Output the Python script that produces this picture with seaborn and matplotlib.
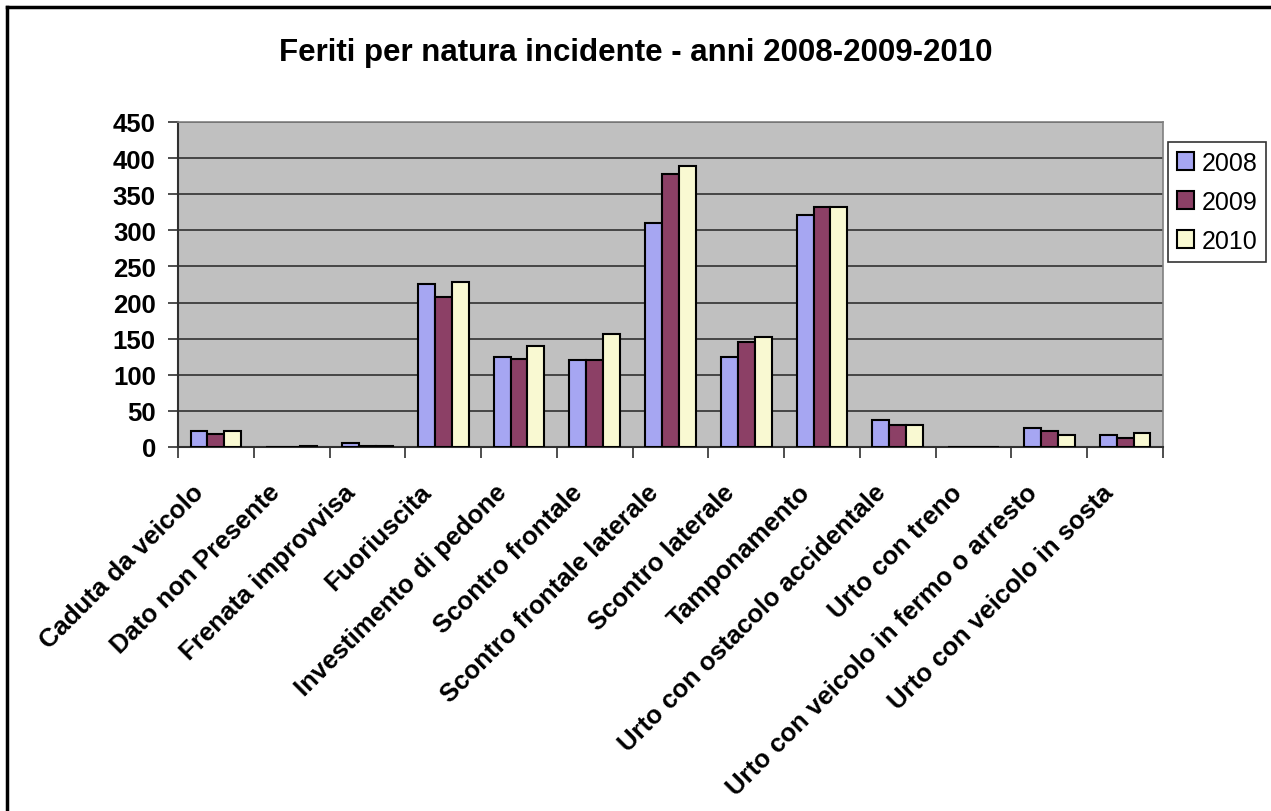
import pandas as pd
import seaborn as sns
import numpy as np
import matplotlib.pyplot as plt
import matplotlib.ticker as ticker
from matplotlib.lines import Line2D
from matplotlib.transforms import ScaledTranslation

categorie = [
    "Caduta da veicolo", "Dato non Presente", "Frenata improvvisa", "Fuoriuscita",
    "Investimento di pedone", "Scontro frontale", "Scontro frontale laterale",
    "Scontro laterale", "Tamponamento", "Urto con ostacolo accidentale",
    "Urto con treno", "Urto con veicolo in fermo o arresto", "Urto con veicolo in sosta",
]
anni = ["2008", "2009", "2010"]
feriti_2008 = [22, 0, 5, 226, 124, 120, 310, 125, 321, 38, 0, 26, 17]
feriti_2009 = [18, 0, 2, 208, 122, 120, 378, 145, 333, 31, 0, 22, 13]
feriti_2010 = [22, 2, 2, 229, 140, 156, 389, 152, 333, 31, 0, 17, 20]
colori = ["#9999FF", "#993366", "#FFFFCC"]

plt.rcParams['font.family'] = ['Liberation Sans', 'DejaVu Sans']

df = pd.concat([
    pd.DataFrame({'categoria': categorie, 'feriti': vals, 'anno': anno})
    for anno, vals in zip(anni, [feriti_2008, feriti_2009, feriti_2010])
])

fig = plt.figure(figsize=(12.71, 8.12), dpi=100)
ax = fig.add_axes([178 / 1271, 1 - 448 / 812, (1163 - 178) / 1271, (448 - 123) / 812])
ax.set_facecolor("#C0C0C0")

sns.barplot(data=df, x='categoria', y='feriti', hue='anno', palette=colori, width=0.67,
            edgecolor='black', linewidth=1.5, ax=ax, legend=True, zorder=3)

ax.set_ylim(0, 450)
ax.yaxis.set_major_locator(ticker.MultipleLocator(50))
ax.yaxis.grid(True, color='#303030', linewidth=1.2, zorder=0)
ax.set_axisbelow(True)
ax.set_xlim(-0.5, len(categorie) - 0.5)

# tick marks between categories, like the spreadsheet chart
ax.set_xticks(np.arange(-0.5, len(categorie), 1), minor=True)
ax.tick_params(axis='x', which='major', length=0, pad=12)
ax.tick_params(axis='x', which='minor', length=8, width=1.2, color='#303030', direction='out')
ax.tick_params(axis='y', length=7, width=1.2, color='#303030', direction='out', pad=9)
ax.set_xticks(range(len(categorie)))
ax.set_xticklabels(categorie, rotation=45, ha='right', va='top', rotation_mode='anchor',
                   fontsize=18.5, fontweight='bold')
shift = ScaledTranslation(-0.24, -0.16, fig.dpi_scale_trans)
for lbl in ax.get_xticklabels():
    lbl.set_transform(lbl.get_transform() + shift)
for lbl in ax.get_yticklabels():
    lbl.set_fontsize(18.5)
    lbl.set_fontweight('bold')

ax.set_xlabel('')
ax.set_ylabel('')
for side in ['left', 'bottom']:
    ax.spines[side].set_color('#303030')
    ax.spines[side].set_linewidth(1.5)
for side in ['top', 'right']:
    ax.spines[side].set_color('#808080')
    ax.spines[side].set_linewidth(1.2)

handles, labels = ax.get_legend_handles_labels()
leg = ax.legend(handles, labels, loc='upper left', bbox_to_anchor=(1168 / 1271, 1 - 143 / 812),
                bbox_transform=fig.transFigure, fontsize=18, frameon=True, fancybox=False,
                edgecolor='black', handlelength=0.7, handleheight=0.7, handletextpad=0.3,
                labelspacing=0.6, borderpad=0.35, borderaxespad=0)
leg.get_frame().set_linewidth(1.2)

fig.text(0.5, 1 - 53 / 812, "Feriti per natura incidente - anni 2008-2009-2010",
         ha='center', va='center', fontsize=22.5, fontweight='bold')

# chart border
fig.add_artist(Line2D([7 / 1271, 7 / 1271], [0, 1 - 8 / 812], color='black', linewidth=2.5,
                      transform=fig.transFigure))
fig.add_artist(Line2D([7 / 1271, 1], [1 - 8 / 812, 1 - 8 / 812], color='black', linewidth=2.5,
                      transform=fig.transFigure))

plt.savefig('out.png', dpi=100)
